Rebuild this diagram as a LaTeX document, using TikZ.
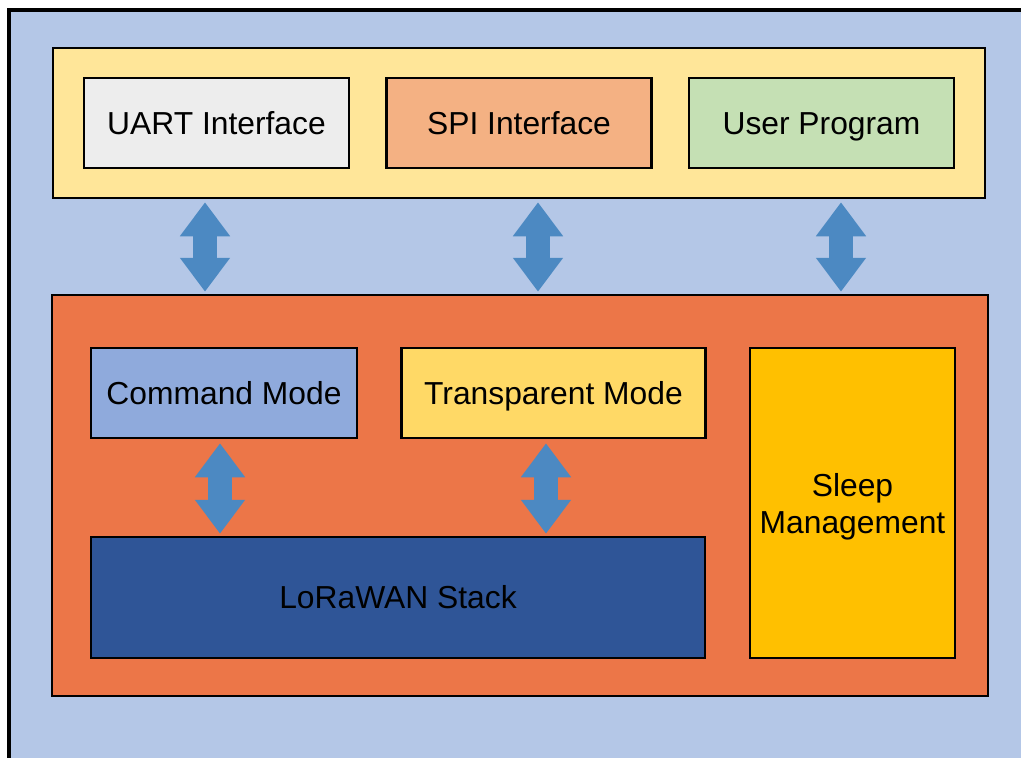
\documentclass[tikz,border=0pt]{standalone}
\usepackage{fontspec}
\setmainfont{Liberation Sans}
\usepackage{tikz}
\usetikzlibrary{arrows.meta, positioning, calc}

\definecolor{bgblue}{HTML}{B4C7E7}
\definecolor{hostyellow}{HTML}{FFE699}
\definecolor{uartgray}{HTML}{EDEDED}
\definecolor{spisalmon}{HTML}{F4B183}
\definecolor{usergreen}{HTML}{C5E0B4}
\definecolor{coreorange}{HTML}{EC7648}
\definecolor{cmdblue}{HTML}{8FAADC}
\definecolor{transyellow}{HTML}{FFD966}
\definecolor{sleepgold}{HTML}{FFC000}
\definecolor{loradark}{HTML}{2F5597}
\definecolor{arrowblue}{HTML}{4C89C2}

\begin{document}
\begin{tikzpicture}[x=1pt, y=-1pt,
    block/.style={draw=black, line width=2.5pt, inner sep=0pt, align=center,
        font=\fontsize{31.8}{37}\selectfont, text height=22.8pt, text depth=0pt},
    module/.style={block, minimum width=265pt, minimum height=90pt},
    biarrow/.style={draw=arrowblue, line width=24pt,
        {Triangle[length=34pt,width=48pt]}-{Triangle[length=34pt,width=48pt]}},
    every node/.style={node distance=35pt}
    ]
    \useasboundingbox (0,0) rectangle (1021,758);

    % background frame, cut by the page on the right and bottom
    \draw[line width=4pt, fill=bgblue] (8.5,10) rectangle (1040,780);

    % the two containers
    \node[block, fill=hostyellow, minimum width=932pt, minimum height=150pt] (host) at (519,123) {};
    \node[block, fill=coreorange, minimum width=936pt, minimum height=401pt] (core) at (520,495.5) {};

    % upper row of modules
    \def\hostparts{uart/UART Interface/uartgray, spi/SPI Interface/spisalmon, user/User Program/usergreen}
    \def\prev{uart}
    \foreach \n/\t/\c [count=\i from 0, remember=\n as \prev] in \hostparts {
        \ifnum \i = 0
        \node[module, fill=\c] (\n) at (216.5,123) {\t};
        \else
        \node[module, fill=\c, right=of \prev] (\n) {\t};
        \fi
    }

    % inside the core
    \node[block, fill=cmdblue, minimum width=266pt, minimum height=90pt] (cmd) at (224,393) {Command Mode};
    \node[block, fill=transyellow, minimum width=304pt, minimum height=90pt] (trans) at (553.5,393) {Transparent Mode};
    \node[block, fill=sleepgold, minimum width=205pt, minimum height=310pt,
        label={[font=\fontsize{31.8}{37}\selectfont, align=center, yshift=-4pt]center:Sleep\\Management}] (sleep) at (852.5,503) {};
    \node[block, fill=loradark, minimum width=614pt, minimum height=121pt] (lora) at (398,597.5) {LoRaWAN Stack};

    % x positions of the arrows
    \coordinate (a1) at (205,0);
    \coordinate (a2) at (538,0);
    \coordinate (a3) at (841,0);
    \coordinate (b1) at (220,0);
    \coordinate (b2) at (546,0);

    \foreach \a in {a1,a2,a3} {
        \draw[biarrow, shorten <=3pt, shorten >=2pt] (host.south -| \a) -- (core.north -| \a);
    }
    \draw[biarrow, shorten <=4pt, shorten >=2pt] (cmd.south -| b1) -- (lora.north -| b1);
    \draw[biarrow, shorten <=4pt, shorten >=2pt] (trans.south -| b2) -- (lora.north -| b2);

\end{tikzpicture}
\end{document}
